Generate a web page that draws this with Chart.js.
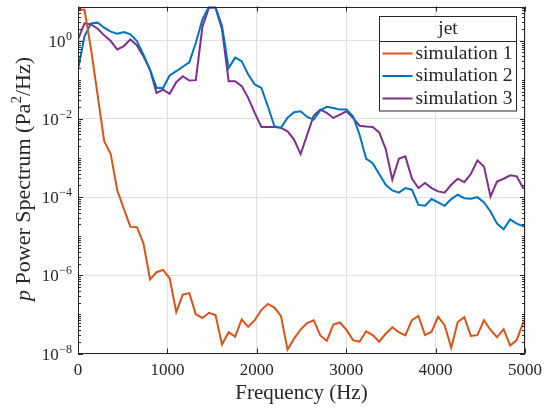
<!DOCTYPE html>
<html>
<head>
<meta charset="utf-8">
<script src="https://cdn.jsdelivr.net/npm/chart.js@4/dist/chart.umd.min.js"></script>
<style>
  html, body { margin: 0; padding: 0; background: #fff; }
  #chart { display: block; }
</style>
</head>
<body>
<canvas id="chart" width="544" height="408"></canvas>
<script>
// frequency bins (Hz)
const freqHz = [0, 73, 146, 220, 293, 366, 439, 513, 586, 659, 732, 806, 879, 952, 1025, 1099, 1172, 1245, 1318, 1392,
  1465, 1538, 1611, 1685, 1758, 1831, 1904, 1977, 2051, 2124, 2197, 2270, 2344, 2417, 2490, 2563, 2637, 2710, 2783, 2856,
  2930, 3003, 3076, 3149, 3223, 3296, 3369, 3442, 3516, 3589, 3662, 3735, 3808, 3882, 3955, 4028, 4101, 4175, 4248, 4321,
  4394, 4468, 4541, 4614, 4687, 4761, 4834, 4907, 4980, 5054];

// power spectra
const sim1 = [6.3, 6.2, 0.6, 0.04, 2.7e-3, 1.27e-3, 1.5e-4, 5.0e-5, 1.73e-5, 1.7e-5,
  6.6e-6, 7.9e-7, 1.2e-6, 1.38e-6, 8.4e-7, 1.14e-7, 3.2e-7, 3.5e-7, 1.0e-7, 8.1e-8,
  1.1e-7, 9.6e-8, 1.7e-8, 3.5e-8, 2.7e-8, 7.4e-8, 4.8e-8, 7.1e-8, 1.29e-7, 1.86e-7,
  1.5e-7, 9.2e-8, 1.26e-8, 2.4e-8, 4.1e-8, 6.0e-8, 7.1e-8, 2.9e-8, 2.1e-8, 5.5e-8,
  6.2e-8, 4.0e-8, 2.2e-8, 2.0e-8, 3.7e-8, 2.95e-8, 2.0e-8, 3.2e-8, 4.7e-8, 3.5e-8,
  2.9e-8, 7.1e-8, 9.1e-8, 2.95e-8, 3.6e-8, 8.7e-8, 5.3e-8, 1.4e-8, 6.4e-8, 8.5e-8,
  2.8e-8, 2.95e-8, 7.1e-8, 4.0e-8, 2.6e-8, 4.2e-8, 1.6e-8, 2.2e-8, 6.2e-8, 9.0e-8];
const sim2 = [0.18, 1.31, 2.78, 2.9, 2.15, 1.7, 1.51, 1.66, 1.45, 0.98,
  0.44, 0.18, 0.062, 0.062, 0.129, 0.166, 0.216, 0.28, 0.89, 3.5,
  7.5, 7.2, 2.37, 0.2, 0.37, 0.3, 0.137, 0.076, 0.062, 0.021,
  6.5e-3, 5.9e-3, 0.0107, 0.0148, 0.0157, 0.0112, 9.6e-3, 0.0166, 0.0203, 0.019,
  0.0173, 0.0173, 0.0117, 4.0e-3, 9.6e-4, 7.4e-4, 3.9e-4, 2.07e-4, 1.48e-4, 1.3e-4,
  1.7e-4, 1.55e-4, 6.3e-5, 6.0e-5, 8.9e-5, 7.3e-5, 6.0e-5, 8.9e-5, 1.15e-4, 9.4e-5,
  9.1e-5, 1.0e-4, 7.3e-5, 4.3e-5, 2.1e-5, 1.5e-5, 2.7e-5, 2.1e-5, 1.8e-5, 1.8e-5];
const sim3 = [1.08, 2.78, 2.6, 2.03, 1.37, 0.98, 0.6, 0.73, 1.08, 0.76,
  0.4, 0.18, 0.046, 0.056, 0.044, 0.087, 0.124, 0.096, 0.098, 2.3,
  7.0, 7.0, 1.95, 0.092, 0.092, 0.069, 0.0346, 0.0143, 6.2e-3, 6.2e-3,
  6.2e-3, 5.9e-3, 4.8e-3, 2.95e-3, 1.26e-3, 3.9e-3, 0.0122, 0.0173, 0.0143, 0.0106,
  0.0129, 0.0157, 0.0106, 6.7e-3, 6.4e-3, 6.2e-3, 4.5e-3, 1.7e-3, 2.8e-4, 9.5e-4,
  1.1e-3, 3.0e-4, 1.7e-4, 2.3e-4, 1.7e-4, 1.4e-4, 1.3e-4, 2.07e-4, 2.95e-4, 2.4e-4,
  3.9e-4, 8.7e-4, 6.1e-4, 1.04e-4, 2.5e-4, 2.95e-4, 3.6e-4, 3.4e-4, 1.7e-4, 1.5e-4];

const seriesNames = ['simulation 1', 'simulation 2', 'simulation 3'];
const seriesColors = ['#D95319', '#0072BD', '#7E2F8E'];
const legendTitle = 'jet';
const xTicks = [0, 1000, 2000, 3000, 4000, 5000];
const yTickExps = [-8, -6, -4, -2, 0];
const xMin = 0, xMax = 5000, yMin = 1e-8, yMax = 7.5;

const SERIF = '"Liberation Serif", "DejaVu Serif", serif';
const AXIS_COLOR = '#262626';

function pts(ys) {
  var out = [];
  for (var i = 0; i < ys.length; i++) out.push({ x: freqHz[i], y: ys[i] });
  return out;
}

// box, inward ticks, y labels, y title and the legend, MATLAB style
const matlabAxes = {
  id: 'matlabAxes',
  afterDraw(chart) {
    const ctx = chart.ctx, a = chart.chartArea;
    const xs = chart.scales.x, ys = chart.scales.y;
    ctx.save();
    ctx.strokeStyle = AXIS_COLOR;
    ctx.lineWidth = 1;
    ctx.strokeRect(Math.round(a.left) + 0.5, Math.round(a.top) + 0.5,
      Math.round(a.right - a.left) - 1, Math.round(a.bottom - a.top) - 1);

    ctx.beginPath();
    xTicks.forEach(function (v) {
      var px = Math.round(xs.getPixelForValue(v)) + 0.5;
      ctx.moveTo(px, a.bottom); ctx.lineTo(px, a.bottom - 5);
      ctx.moveTo(px, a.top); ctx.lineTo(px, a.top + 5);
    });
    for (var e = -8; e <= 0; e++) {
      for (var m = 1; m <= 9; m++) {
        var v = m * Math.pow(10, e);
        if (v > yMax) continue;
        var py = Math.round(ys.getPixelForValue(v)) + 0.5;
        var len = (m === 1 && yTickExps.indexOf(e) >= 0) ? 5 : 3;
        ctx.moveTo(a.left, py); ctx.lineTo(a.left + len, py);
        ctx.moveTo(a.right, py); ctx.lineTo(a.right - len, py);
      }
    }
    ctx.stroke();

    // y tick labels 10^n
    ctx.fillStyle = AXIS_COLOR;
    ctx.textBaseline = 'alphabetic';
    yTickExps.forEach(function (e) {
      var py = ys.getPixelForValue(Math.pow(10, e));
      var ex = e === 0 ? '0' : '\u2212' + Math.abs(e);
      ctx.font = '12px ' + SERIF;
      var ew = ctx.measureText(ex).width;
      ctx.textAlign = 'left';
      var right = a.left - 6;
      ctx.fillText(ex, right - ew, py - 1);
      ctx.font = '17px ' + SERIF;
      ctx.textAlign = 'right';
      ctx.fillText('10', right - ew - 0.5, py + 6);
    });

    // y axis title
    var parts = [
      { t: 'p', f: 'italic 22px ' + SERIF, dy: 0 },
      { t: ' Power Spectrum (Pa', f: '22px ' + SERIF, dy: 0 },
      { t: '2', f: '15px ' + SERIF, dy: -9 },
      { t: '/Hz)', f: '22px ' + SERIF, dy: 0 }
    ];
    var total = 0;
    parts.forEach(function (p) { ctx.font = p.f; p.w = ctx.measureText(p.t).width; total += p.w; });
    ctx.save();
    ctx.translate(30, (a.top + a.bottom) / 2 - 1);
    ctx.rotate(-Math.PI / 2);
    ctx.textAlign = 'left';
    var x = -total / 2;
    parts.forEach(function (p) { ctx.font = p.f; ctx.fillText(p.t, x, p.dy); x += p.w; });
    ctx.restore();

    // legend
    var bw = 137, bh = 94.5;
    var bx = Math.round(a.right - 9 - bw) + 0.5, by = Math.round(a.top + 9) + 0.5;
    ctx.fillStyle = '#fff';
    ctx.fillRect(bx, by, bw, bh);
    ctx.strokeStyle = AXIS_COLOR;
    ctx.lineWidth = 1;
    ctx.strokeRect(bx, by, bw, bh);
    ctx.beginPath();
    ctx.moveTo(bx, by + 25); ctx.lineTo(bx + bw, by + 25);
    ctx.stroke();
    ctx.fillStyle = AXIS_COLOR;
    ctx.font = '19.5px ' + SERIF;
    ctx.textAlign = 'center';
    ctx.textBaseline = 'middle';
    ctx.fillText(legendTitle, bx + bw / 2, by + 12);
    ctx.textAlign = 'left';
    chart.data.datasets.forEach(function (ds, i) {
      var ry = by + 37 + i * 22.5;
      ctx.strokeStyle = ds.borderColor;
      ctx.lineWidth = 2;
      ctx.beginPath();
      ctx.moveTo(bx + 3, ry); ctx.lineTo(bx + 33, ry);
      ctx.stroke();
      ctx.fillStyle = AXIS_COLOR;
      ctx.fillText(ds.label, bx + 36, ry);
    });
    ctx.restore();
  }
};

const datasets = [sim1, sim2, sim3].map(function (s, i) {
  return {
    label: seriesNames[i],
    data: pts(s),
    borderColor: seriesColors[i],
    backgroundColor: seriesColors[i],
    borderWidth: 2,
    pointRadius: 0,
    tension: 0,
    clip: 0
  };
});

new Chart(document.getElementById('chart'), {
  type: 'line',
  data: { datasets: datasets },
  plugins: [matlabAxes],
  options: {
    responsive: false,
    animation: false,
    devicePixelRatio: 1,
    layout: { padding: { left: 0, right: 19, top: 6.5, bottom: 0 } },
    plugins: { legend: { display: false }, tooltip: { enabled: false } },
    scales: {
      x: {
        type: 'linear',
        min: xMin, max: xMax,
        afterBuildTicks: function (scale) { scale.ticks = xTicks.map(function (v) { return { value: v }; }); },
        afterFit: function (scale) {
          scale.height = 54.5;
          scale.paddingLeft = 0;
          scale.paddingRight = 0;
        },
        grid: { color: '#e0e0e0', drawTicks: false },
        border: { display: false },
        ticks: {
          color: AXIS_COLOR, padding: 7, maxRotation: 0,
          font: { family: SERIF, size: 17 },
          callback: function (v) { return String(v); }
        },
        title: {
          display: true, text: 'Frequency (Hz)', color: AXIS_COLOR,
          padding: { top: 0, bottom: 2 },
          font: { family: SERIF, size: 21 }
        }
      },
      y: {
        type: 'logarithmic',
        min: yMin, max: yMax,
        afterBuildTicks: function (scale) {
          scale.ticks = yTickExps.map(function (e) { return { value: Math.pow(10, e) }; });
        },
        afterFit: function (scale) {
          scale.width = 78;
          scale.paddingTop = 0;
          scale.paddingBottom = 0;
        },
        grid: { color: '#e0e0e0', drawTicks: false },
        border: { display: false },
        ticks: { display: false }
      }
    }
  }
});
</script>
</body>
</html>
